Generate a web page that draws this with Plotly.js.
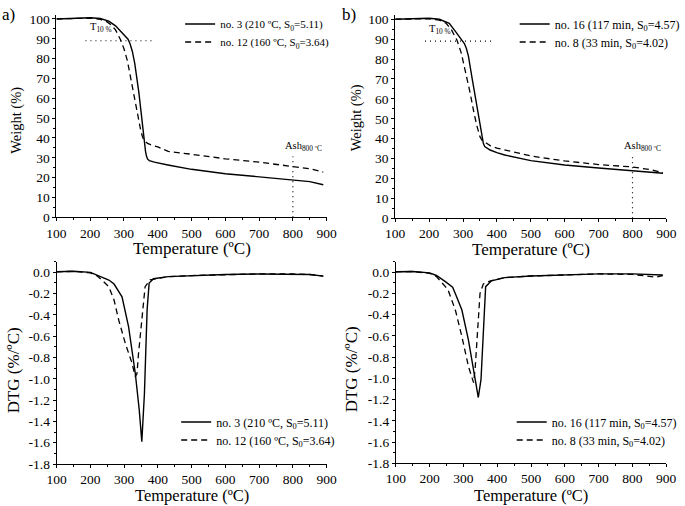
<!DOCTYPE html>
<html>
<head>
<meta charset="utf-8">
<script src="https://cdn.plot.ly/plotly-3.0.1.min.js"></script>
<style>html,body{margin:0;padding:0;background:#fff;}#chart{width:685px;height:506px;}</style>
</head>
<body>
<div id="chart"></div>
<script>
// ---- Panel a) TG ----
const tgA3_T = [100,150,200,230,255,275,294,305,312,318,325,332,338,344,350,355,360,364,367,370,375,390,430,500,600,700,800,850,890];
const tgA3_W = [100,100.2,100.6,100.2,98.9,96.5,93.3,91.3,89.8,87.5,83.5,77.5,71,63,54,45.5,37.5,33,30.6,29.3,28.6,27.8,26.4,24.2,22,20.5,19,18,16.4];
const tgA12_T = [100,150,200,230,250,262,275,289.5,300,310,319,330,338,345,350,355,360,370,380,400,431,500,600,700,800,850,890];
const tgA12_W = [100,100.2,100.4,99.8,98.5,97,94.5,89.6,85,79,71,61,54,47,43.5,40.5,38.6,37.3,36.5,35.5,33.2,31.8,29.5,27.8,25.7,24.5,22.8];
// ---- Panel b) TG ----
const tgB16_T = [100,150,200,230,259.5,277,288,297,304,310,316,326,335,342,352,357,360,364,370,380,400,423,500,600,700,800,850,890];
const tgB16_W = [100,100.2,100.5,100,98,94,91.7,89.8,87.8,85.3,81.5,71.2,62,54.4,44,40,37.7,36,35.2,34.3,33,31.8,29,26.8,25.3,24,23.3,22.6];
const tgB8_T = [100,150,200,230,250,265,282,295,311,321,330.7,340,350,357,364,380,400,423,500,600,700,800,850,890];
const tgB8_W = [100,100.2,100.3,99.6,98,95,89.6,83,71.2,63,54.4,47,41,39,38.3,36.5,35.3,34.3,31.3,28.8,27,25.8,24.5,23];
// ---- Panel a) DTG ----
const dtgA3_T = [100,150,200,220,240,254.6,270,293.6,313,333,344.6,352.3,360,368,374,387,430,500,600,700,800,850,890];
const dtgA3_D = [0.005,0.01,0.0,-0.025,-0.05,-0.072,-0.11,-0.23,-0.51,-0.95,-1.29,-1.59,-1.14,-0.35,-0.1,-0.06,-0.04,-0.03,-0.02,-0.015,-0.015,-0.02,-0.035];
const dtgA12_T = [100,150,200,220,240,254.6,270,284,303.6,323,333,338,342.6,352,362,377,430,500,600,700,800,850,890];
const dtgA12_D = [0.005,0.01,-0.005,-0.034,-0.09,-0.135,-0.26,-0.45,-0.67,-0.85,-0.98,-0.95,-0.76,-0.42,-0.135,-0.07,-0.04,-0.03,-0.02,-0.015,-0.015,-0.02,-0.035];
// ---- Panel b) DTG ----
const dtgB16_T = [100,150,200,220,246.5,260,268,275.8,295.4,314.8,329.5,339.3,344,352,358.8,365.7,383,422,500,600,700,800,850,890];
const dtgB16_D = [0.005,0.008,-0.005,-0.03,-0.088,-0.12,-0.14,-0.2,-0.355,-0.64,-0.92,-1.11,-1.18,-1.01,-0.51,-0.135,-0.08,-0.05,-0.035,-0.025,-0.015,-0.015,-0.02,-0.025];
const dtgB8_T = [100,150,200,220,246.5,256,276,295,315,324.7,330,334.4,339,344,349,358.8,380,422,500,600,700,800,850,870,890];
const dtgB8_D = [0.005,0.008,-0.01,-0.04,-0.135,-0.18,-0.355,-0.6,-0.89,-1.0,-1.04,-0.92,-0.67,-0.42,-0.2,-0.11,-0.08,-0.05,-0.035,-0.025,-0.015,-0.02,-0.04,-0.045,-0.03];

// labels
const legA = ['no. 3 (210 ºC, S<sub>0</sub>=5.11)', 'no. 12 (160 ºC, S<sub>0</sub>=3.64)'];
const legB = ['no. 16 (117 min, S<sub>0</sub>=4.57)', 'no. 8 (33 min, S<sub>0</sub>=4.02)'];
const xTitle = 'Temperature (ºC)';
const wTitle = 'Weight (%)';
const dTitle = 'DTG (%/ºC)';
const xTickVals = [100,200,300,400,500,600,700,800,900];
const wTickVals = [0,10,20,30,40,50,60,70,80,90,100];
const dtgTickVals = [0.0,-0.2,-0.4,-0.6,-0.8,-1.0,-1.2,-1.4,-1.6,-1.8];
const dtgTickText = ['0.0','-0.2','-0.4','-0.6','-0.8','-1.0','-1.2','-1.4','-1.6','-1.8'];
const t10Level = 89;
const t10SpanA = [186, 383];
const t10SpanB = [188, 384];
const ashTemp = 800;
const ashTopA = 30.6;
const ashTopB = 31;

const FONT = '"Liberation Serif", "Times New Roman", Times, serif';
const solid = {color:'#000', width:1.4, dash:'solid'};
const dashed = {color:'#000', width:1.3, dash:'6px,4px'};

const traces = [
  {x:tgA3_T, y:tgA3_W, xaxis:'x', yaxis:'y', mode:'lines', line:solid, name:legA[0], legend:'legend'},
  {x:tgA12_T, y:tgA12_W, xaxis:'x', yaxis:'y', mode:'lines', line:dashed, name:legA[1], legend:'legend2'},
  {x:tgB16_T, y:tgB16_W, xaxis:'x2', yaxis:'y2', mode:'lines', line:solid, name:legB[0], legend:'legend3'},
  {x:tgB8_T, y:tgB8_W, xaxis:'x2', yaxis:'y2', mode:'lines', line:dashed, name:legB[1], legend:'legend4'},
  {x:dtgA3_T, y:dtgA3_D, xaxis:'x3', yaxis:'y3', mode:'lines', line:solid, name:legA[0], legend:'legend5'},
  {x:dtgA12_T, y:dtgA12_D, xaxis:'x3', yaxis:'y3', mode:'lines', line:dashed, name:legA[1], legend:'legend6'},
  {x:dtgB16_T, y:dtgB16_D, xaxis:'x4', yaxis:'y4', mode:'lines', line:solid, name:legB[0], legend:'legend7'},
  {x:dtgB8_T, y:dtgB8_D, xaxis:'x4', yaxis:'y4', mode:'lines', line:dashed, name:legB[1], legend:'legend8'}
];

const baseAxis = {ticks:'outside', ticklen:3, tickwidth:1, tickcolor:'#000',
  showline:true, linecolor:'#000', linewidth:1, showgrid:false, zeroline:false,
  tickfont:{family:FONT, size:13.5, color:'#000'}};
function xAxis(domain, anchor){
  return Object.assign({}, baseAxis, {domain:domain, anchor:anchor, range:[100,900], tickvals:xTickVals,
    minor:{ticks:'outside', ticklen:2, dtick:50, tick0:100, tickcolor:'#000', showgrid:false}});
}
function wAxis(domain, anchor){
  return Object.assign({}, baseAxis, {domain:domain, anchor:anchor, range:[0,102], tickvals:wTickVals,
    minor:{ticks:'outside', ticklen:2, dtick:5, tick0:0, tickcolor:'#000', showgrid:false}});
}
function dAxis(domain, anchor){
  return Object.assign({}, baseAxis, {domain:domain, anchor:anchor, range:[-1.8,0.1], tickvals:dtgTickVals, ticktext:dtgTickText,
    minor:{ticks:'outside', ticklen:2, dtick:0.1, tick0:0, tickcolor:'#000', showgrid:false}});
}
function legend(xpx, ypx, size){
  return {x:xpx/685, y:1-ypx/506, xanchor:'left', yanchor:'middle', bgcolor:'rgba(0,0,0,0)', borderwidth:0,
    font:{family:FONT, size:size, color:'#000'}, itemwidth:30, tracegroupgap:0};
}

const dotLine = {color:'#000', width:1.2, dash:'1px,4px'};
const shapes = [
  {type:'line', xref:'x', yref:'y', x0:t10SpanA[0], x1:t10SpanA[1], y0:t10Level, y1:t10Level, line:dotLine},
  {type:'line', xref:'x2', yref:'y2', x0:t10SpanB[0], x1:t10SpanB[1], y0:t10Level, y1:t10Level, line:dotLine},
  {type:'line', xref:'x', yref:'y', x0:ashTemp, x1:ashTemp, y0:0, y1:ashTopA, line:dotLine},
  {type:'line', xref:'x2', yref:'y2', x0:ashTemp, x1:ashTemp, y0:0, y1:ashTopB, line:dotLine}
];
const annFont = {family:FONT, size:10.5, color:'#000'};
function titleX(ref, ypx, size){
  return {xref:ref+' domain', yref:'paper', x:0.5, y:1-ypx/506, xanchor:'center', yanchor:'middle', text:xTitle, showarrow:false,
    font:{family:FONT, size:size, color:'#000'}};
}
function titleY(text, xpx, ypx, size){
  return {xref:'paper', yref:'paper', x:xpx/685, y:1-ypx/506, xanchor:'center', yanchor:'middle', textangle:-90, text:text, showarrow:false,
    font:{family:FONT, size:size, color:'#000'}};
}
const annotations = [
  {xref:'x', yref:'y', x:232, y:95.5, text:'T<sub>10 %</sub>', showarrow:false, font:annFont},
  {xref:'x2', yref:'y2', x:232, y:95, text:'T<sub>10 %</sub>', showarrow:false, font:annFont},
  {xref:'x', yref:'y', x:830, y:35.5, text:'Ash<sub>800 ºC</sub>', showarrow:false, font:annFont},
  {xref:'x2', yref:'y2', x:829, y:36, text:'Ash<sub>800 ºC</sub>', showarrow:false, font:annFont},
  titleX('x', 248, 17), titleX('x2', 249.5, 17), titleX('x3', 495, 16.5), titleX('x4', 495, 16.5),
  titleY(wTitle, 17, 120, 14.5), titleY(wTitle, 360, 118, 14.5),
  titleY(dTitle, 13.5, 370, 17), titleY(dTitle, 355, 369, 17),
  {xref:'paper', yref:'paper', x:0.0, y:0.995, xanchor:'left', yanchor:'top', text:'a)', showarrow:false, font:{family:FONT, size:17, color:'#000'}},
  {xref:'paper', yref:'paper', x:0.502, y:0.995, xanchor:'left', yanchor:'top', text:'b)', showarrow:false, font:{family:FONT, size:17, color:'#000'}}
];

const layout = {
  width:685, height:506, margin:{l:0, r:0, t:0, b:0}, paper_bgcolor:'#fff', plot_bgcolor:'#fff',
  font:{family:FONT, color:'#000'},
  xaxis: xAxis([0.0832,0.4818],'y'), yaxis: wAxis([0.5705,0.9704],'x'),
  xaxis2: xAxis([0.5829,0.9829],'y2'), yaxis2: wAxis([0.5686,0.9698],'x2'),
  xaxis3: xAxis([0.0836,0.4818],'y3'), yaxis3: dAxis([0.0830,0.4828],'x3'),
  xaxis4: xAxis([0.5839,0.9825],'y4'), yaxis4: dAxis([0.0844,0.4828],'x4'),
  legend: legend(182, 24, 11),
  legend2: legend(182, 42, 11),
  legend3: legend(520, 24, 12),
  legend4: legend(520, 42, 12),
  legend5: legend(178, 422, 12),
  legend6: legend(178, 440, 12),
  legend7: legend(517, 422, 12),
  legend8: legend(517, 440, 12),
  showlegend:true, shapes:shapes, annotations:annotations
};
Plotly.newPlot('chart', traces, layout, {staticPlot:true, displayModeBar:false});
</script>
</body>
</html>
